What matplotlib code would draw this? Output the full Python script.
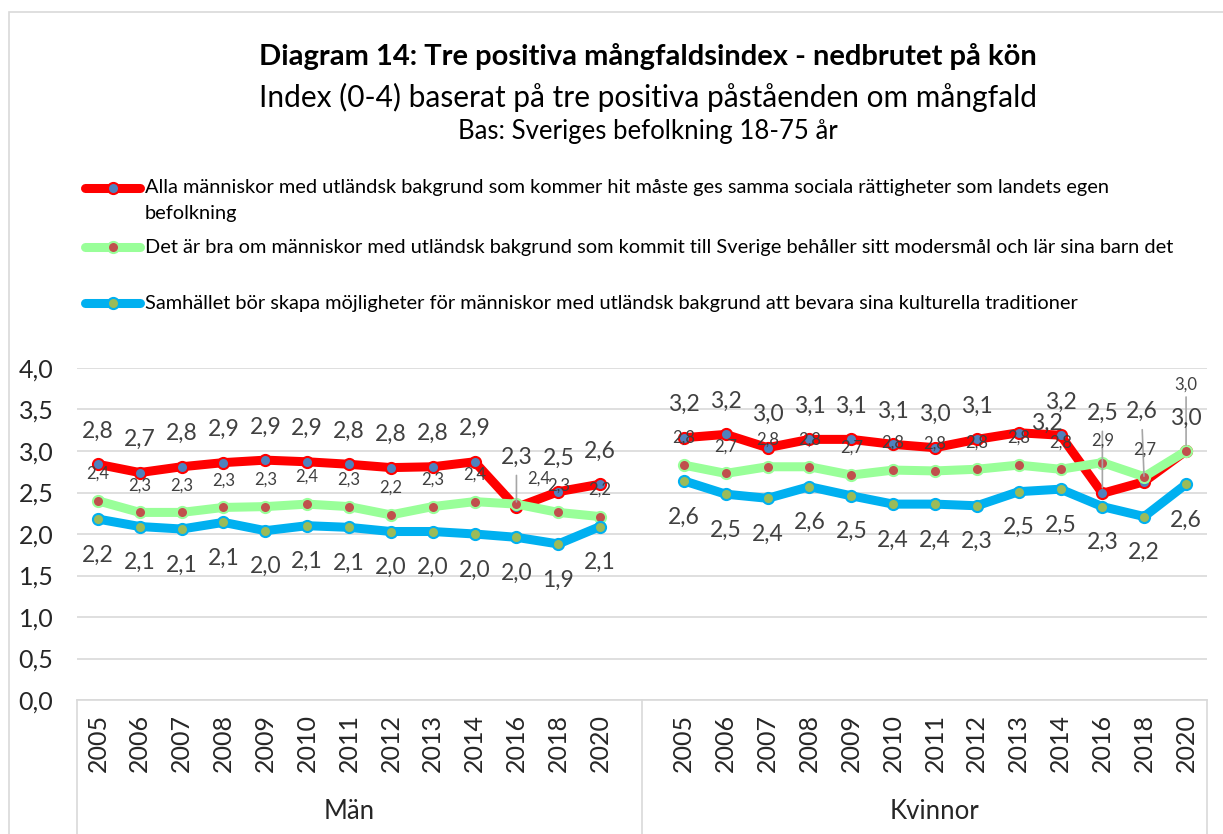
import numpy as np
import matplotlib
matplotlib.use("Agg")
import matplotlib.pyplot as plt
from matplotlib.lines import Line2D
from matplotlib.patches import Rectangle
import matplotlib.transforms as mtrans

plt.rcParams["font.family"] = ["Lato", "DejaVu Sans"]

# -------- data --------
YEARS = ["2005", "2006", "2007", "2008", "2009", "2010", "2011",
         "2012", "2013", "2014", "2016", "2018", "2020"]
GROUPS = ["Män", "Kvinnor"]

SERIES = [
    "Alla människor med utländsk bakgrund som kommer hit måste ges samma sociala rättigheter som landets egen\nbefolkning",
    "Det är bra om människor med utländsk bakgrund som kommit till Sverige behåller sitt modersmål och lär sina barn det",
    "Samhället bör skapa möjligheter för människor med utländsk bakgrund att bevara sina kulturella traditioner",
]

rattigheter_man = [2.84, 2.74, 2.81, 2.86, 2.89, 2.87, 2.84, 2.80, 2.81, 2.87, 2.32, 2.51, 2.60]
rattigheter_kvinna = [3.16, 3.20, 3.04, 3.14, 3.14, 3.08, 3.04, 3.14, 3.22, 3.19, 2.49, 2.63, 3.00]
modersmal_man = [2.40, 2.26, 2.26, 2.32, 2.33, 2.36, 2.33, 2.23, 2.33, 2.39, 2.36, 2.26, 2.21]
modersmal_kvinna = [2.83, 2.73, 2.81, 2.81, 2.71, 2.77, 2.76, 2.78, 2.83, 2.78, 2.86, 2.69, 3.00]
traditioner_man = [2.18, 2.09, 2.06, 2.14, 2.04, 2.10, 2.08, 2.03, 2.03, 2.00, 1.96, 1.88, 2.09]
traditioner_kvinna = [2.64, 2.48, 2.43, 2.57, 2.46, 2.36, 2.36, 2.34, 2.51, 2.54, 2.33, 2.21, 2.60]

DATA = [
    (rattigheter_man, rattigheter_kvinna),
    (modersmal_man, modersmal_kvinna),
    (traditioner_man, traditioner_kvinna),
]

# -------- styles --------
LINE_COL = ["#FF0000", "#99FF99", "#00B0F0"]
MARK_COL = ["#4F81BD", "#C0504D", "#9BBB59"]
LBL_SIZE = [16.5, 12, 16.5]
LBL_DY = [33, 27, -36]          # pixel offset of data labels
TXT = "#404040"
GRID = "#D9D9D9"

# special label offsets (series, group, index) -> (dx, dy, leader)
SPECIAL = {
    (0, 0, 10): (0, 50, True),
    (1, 0, 10): (22, 25, False),
    (0, 1, 8): (28, 9, False),
    (0, 1, 10): (0, 80, True),
    (1, 1, 10): (0, 22, False),
    (0, 1, 11): (-2, 70, True),
    (1, 1, 12): (0, 66, True),
}

n = len(YEARS)
x_groups = [np.arange(n), np.arange(n) + n + 1]

fig = plt.figure(figsize=(12.23, 8.34), dpi=100)
W, H = 1223, 834
ax = fig.add_axes([77 / W, 1 - 700 / H, (1207 - 77) / W, (700 - 368) / H])

# chart frame
fig.patches.append(Rectangle((9 / W, -0.1), 1.2, 1 - 12 / H + 0.1, transform=fig.transFigure,
                             fill=False, edgecolor=GRID, lw=1.2))

for s in range(3):
    for g in range(2):
        xs = x_groups[g]
        ys = DATA[s][g]
        ax.plot(xs, ys, color=LINE_COL[s], lw=6.5, solid_joinstyle="round",
                solid_capstyle="round", marker="o", ms=8, mfc=MARK_COL[s],
                mec=LINE_COL[s], mew=1.5, zorder=3 + s)
        for i, (x, y) in enumerate(zip(xs, ys)):
            dx, dy, leader = SPECIAL.get((s, g, i), (0, LBL_DY[s], False))
            ax.annotate(f"{y:.1f}".replace(".", ","), (x, y), xytext=(dx, dy),
                        textcoords="offset pixels", ha="center", va="center",
                        fontsize=LBL_SIZE[s], color=TXT, zorder=10)
            if leader:
                ax.annotate("", (x, y), xytext=(dx, dy - (12 if s == 1 else 18)),
                            textcoords="offset pixels",
                            arrowprops=dict(arrowstyle="-", color="#A6A6A6", lw=1.2,
                                            shrinkA=0, shrinkB=4), zorder=9)

ax.set_xlim(-0.5, 2 * n + 0.5)
ax.set_ylim(0, 4)
yt = np.arange(0, 4.01, 0.5)
ax.set_yticks(yt)
ax.set_yticklabels([f"{v:.1f}".replace(".", ",") for v in yt], fontsize=18, color="#262626")
ax.set_xticks(np.concatenate(x_groups))
ax.set_xticklabels(YEARS * 2, rotation=90, fontsize=18, color="#262626")
ax.tick_params(axis="both", length=0)
ax.tick_params(axis="y", pad=17)
ax.tick_params(axis="x", pad=10)
ax.grid(axis="y", color=GRID, lw=1.2)
ax.set_axisbelow(True)
for sp in ["top", "right", "left"]:
    ax.spines[sp].set_visible(False)
ax.spines["bottom"].set_color(GRID)
ax.spines["bottom"].set_linewidth(1.2)

# group separators and labels
trans = mtrans.blended_transform_factory(ax.transData, ax.transAxes)
for xv in [-0.5, n, 2 * n + 0.5]:
    ax.plot([xv, xv], [0, -0.41], color=GRID, lw=1.2, transform=trans, clip_on=False)
for g, name in enumerate(GROUPS):
    ax.text(x_groups[g].mean(), -0.337, name, transform=trans, ha="center", va="center",
            fontsize=18.5, color="#262626")

# titles
cx = 648 / W
fig.text(cx, 1 - 57 / H, "Diagram 14: Tre positiva mångfaldsindex - nedbrutet på kön",
         ha="center", va="center", fontsize=21, fontweight="bold", color="#000000")
fig.text(cx, 1 - 97 / H, "Index (0-4) baserat på tre positiva påståenden om mångfald",
         ha="center", va="center", fontsize=21.5, color="#000000")
fig.text(cx, 1 - 131 / H, "Bas: Sveriges befolkning 18-75 år",
         ha="center", va="center", fontsize=18.5, color="#000000")

# legend
leg_y = [188, 247, 303]
for s in range(3):
    yy = 1 - leg_y[s] / H
    fig.add_artist(Line2D([85 / W, 140 / W], [yy, yy], color=LINE_COL[s], lw=6.5,
                          solid_capstyle="round", transform=fig.transFigure))
    fig.add_artist(Line2D([113 / W], [yy], marker="o", ms=8, mfc=MARK_COL[s],
                          mec=LINE_COL[s], mew=1.5, transform=fig.transFigure))
    for k, line in enumerate(SERIES[s].split("\n")):
        fig.text(145 / W, 1 - (leg_y[s] + 25 * k) / H, line, ha="left", va="center",
                 fontsize=14.4, color="#000000")

fig.savefig("out.png", dpi=100)
